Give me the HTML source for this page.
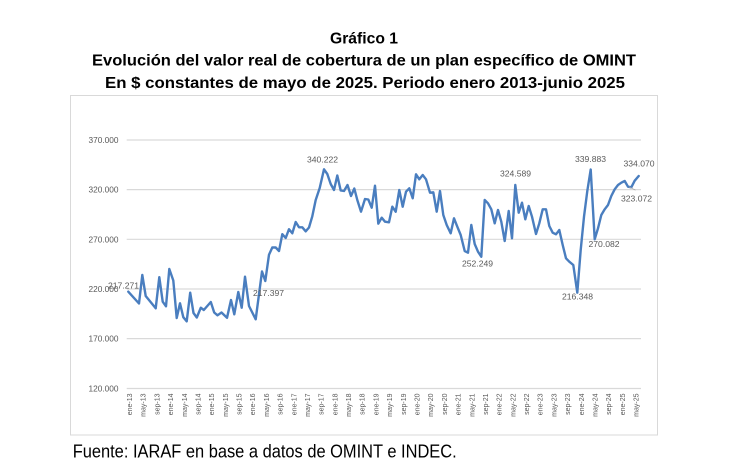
<!DOCTYPE html>
<html>
<head>
<meta charset="utf-8">
<style>
html,body{margin:0;padding:0;background:#fff;}
body{width:730px;height:467px;overflow:hidden;}
svg{display:block;}
</style>
</head>
<body>
<svg width="730" height="467" viewBox="0 0 730 467" xmlns="http://www.w3.org/2000/svg" font-family="'Liberation Sans', sans-serif">
  <rect x="0" y="0" width="730" height="467" fill="#fff"/>
  <!-- Titles -->
  <g font-weight="bold" font-size="16" fill="#000">
    <text x="330" y="43.5" textLength="68" lengthAdjust="spacingAndGlyphs">Gráfico 1</text>
    <text x="92" y="65.5" textLength="544" lengthAdjust="spacingAndGlyphs">Evolución del valor real de cobertura de un plan específico de OMINT</text>
    <text x="105" y="88" textLength="520" lengthAdjust="spacingAndGlyphs">En $ constantes de mayo de 2025. Periodo enero 2013-junio 2025</text>
  </g>
  <!-- Chart frame -->
  <rect x="70.5" y="95.5" width="587" height="339.5" fill="#fff" stroke="#d9d9d9" stroke-width="1"/>
  <!-- Gridlines -->
  <g stroke="#d9d9d9" stroke-width="1.2">
    <line x1="126.7" y1="140" x2="641" y2="140"/>
    <line x1="126.7" y1="189.6" x2="641" y2="189.6"/>
    <line x1="126.7" y1="239.3" x2="641" y2="239.3"/>
    <line x1="126.7" y1="289" x2="641" y2="289"/>
    <line x1="126.7" y1="338.6" x2="641" y2="338.6"/>
    <line x1="126.7" y1="388.5" x2="641" y2="388.5"/>
  </g>
  <!-- Y axis labels -->
  <g font-size="8.3" fill="#595959" text-anchor="end">
    <text x="118.5" y="143">370.000</text>
    <text x="118.5" y="192.6">320.000</text>
    <text x="118.5" y="242.3">270.000</text>
    <text x="118.5" y="292">220.000</text>
    <text x="118.5" y="341.6">170.000</text>
    <text x="118.5" y="391.5">120.000</text>
  </g>
  <!-- X axis labels -->
  <g font-size="7" fill="#595959" text-anchor="end">
    <text transform="translate(132,393.5) rotate(-90)">ene-13</text>
    <text transform="translate(145.69,393.5) rotate(-90)">may-13</text>
    <text transform="translate(159.38,393.5) rotate(-90)">sep-13</text>
    <text transform="translate(173.07,393.5) rotate(-90)">ene-14</text>
    <text transform="translate(186.76,393.5) rotate(-90)">may-14</text>
    <text transform="translate(200.45,393.5) rotate(-90)">sep-14</text>
    <text transform="translate(214.14,393.5) rotate(-90)">ene-15</text>
    <text transform="translate(227.83,393.5) rotate(-90)">may-15</text>
    <text transform="translate(241.52,393.5) rotate(-90)">sep-15</text>
    <text transform="translate(255.21,393.5) rotate(-90)">ene-16</text>
    <text transform="translate(268.9,393.5) rotate(-90)">may-16</text>
    <text transform="translate(282.59,393.5) rotate(-90)">sep-16</text>
    <text transform="translate(296.28,393.5) rotate(-90)">ene-17</text>
    <text transform="translate(309.97,393.5) rotate(-90)">may-17</text>
    <text transform="translate(323.66,393.5) rotate(-90)">sep-17</text>
    <text transform="translate(337.35,393.5) rotate(-90)">ene-18</text>
    <text transform="translate(351.04,393.5) rotate(-90)">may-18</text>
    <text transform="translate(364.73,393.5) rotate(-90)">sep-18</text>
    <text transform="translate(378.42,393.5) rotate(-90)">ene-19</text>
    <text transform="translate(392.11,393.5) rotate(-90)">may-19</text>
    <text transform="translate(405.8,393.5) rotate(-90)">sep-19</text>
    <text transform="translate(419.49,393.5) rotate(-90)">ene-20</text>
    <text transform="translate(433.18,393.5) rotate(-90)">may-20</text>
    <text transform="translate(446.87,393.5) rotate(-90)">sep-20</text>
    <text transform="translate(460.56,393.5) rotate(-90)">ene-21</text>
    <text transform="translate(474.25,393.5) rotate(-90)">may-21</text>
    <text transform="translate(487.94,393.5) rotate(-90)">sep-21</text>
    <text transform="translate(501.63,393.5) rotate(-90)">ene-22</text>
    <text transform="translate(515.32,393.5) rotate(-90)">may-22</text>
    <text transform="translate(529.01,393.5) rotate(-90)">sep-22</text>
    <text transform="translate(542.7,393.5) rotate(-90)">ene-23</text>
    <text transform="translate(556.39,393.5) rotate(-90)">may-23</text>
    <text transform="translate(570.08,393.5) rotate(-90)">sep-23</text>
    <text transform="translate(583.77,393.5) rotate(-90)">ene-24</text>
    <text transform="translate(597.46,393.5) rotate(-90)">may-24</text>
    <text transform="translate(611.15,393.5) rotate(-90)">sep-24</text>
    <text transform="translate(624.84,393.5) rotate(-90)">ene-25</text>
    <text transform="translate(638.53,393.5) rotate(-90)">may-25</text>
  </g>
  <!-- Series -->
  <polyline fill="none" stroke="#4a7ebf" stroke-width="2.4" stroke-linejoin="round" stroke-linecap="round" points="
128.3,291.7 139,303.5 142.3,275 145.7,296 155.7,308.3 159.3,277.2 162.7,301.7 166,306.3 169.3,269 173.3,280.5
176.7,318 180,303.3 183.3,317.2 186.7,321.3 190.2,292.7 193.5,313 196.8,317.5 200.8,307.7 203.8,310 210.8,302
214.2,312.5 217.5,315.3 221.5,312.5 227,317.8 231,300 234.3,314.3 238.3,292 241.7,307.7 245,276.7 249,306
255.7,319.3 262,271.5 265.3,281 269,254.7 272.3,247.5 275.7,247.5 279,251 282.3,234.2 285.7,238 289,229.2
292.3,233.3 295.7,222 299,227.3 302.3,227.3 305.7,231.3 309,227.5 312.3,216.3 315.7,200 319.7,188 324,169.3
327.3,174 330.7,184 334,190 337.3,175.5 340.7,190.5 344,191 347.5,185 351,196 354.3,188.5 357.3,200
361,211.7 365,199 368.3,199.5 371.7,207.7 375,185.7 378.3,223.7 381.7,217.7 385,221.7 389,222.3 392.3,206.7
395.7,211.7 399.3,190 402.7,206.7 406,191.7 409.3,188.3 412.7,198.3 416,174.3 419.3,179.3 422.7,175 426,179.3
430,192.7 433.3,192.3 436.7,211.7 440,191 443.3,215 446.7,225 450.7,233.3 454,218.3 457.3,226.7 460.7,235
464.7,251 468,252.7 471.3,225 474.7,244 478,251.7 481.3,256.7 484.7,200 488,203.3 491.3,209.3 494.7,223.3
498,210 501.3,221.7 504.7,241 508.7,211 512,238.3 515.3,185 518.7,212.7 522,202.7 525.3,219.3 528.7,206
532,216.7 536,234 539.3,223.3 542.7,209.3 546,209.3 549.3,226 552.7,232.7 556,234.3 559.3,230 562.7,245
566,258.3 569.3,261.7 573.3,265 577.3,292.7 580.7,250 584,216.7 587.3,191 590.7,169.5 594.7,239.3 598,228.3
601.3,215 604.7,209.3 608,205 611.3,196 614.7,189.3 618,185 621.3,182.7 624.7,181 628,186.7 631.3,187.3
634.7,180.7 638.7,176"/>
  <!-- Leader line -->
  <line x1="629" y1="186.8" x2="635.5" y2="190.2" stroke="#a6a6a6" stroke-width="0.8"/>
  <!-- Data labels -->
  <g font-size="8.6" fill="#595959">
    <text x="108" y="288.3">217.271</text>
    <text x="253" y="295.8">217.397</text>
    <text x="307" y="162.3">340.222</text>
    <text x="500" y="176.3">324.589</text>
    <text x="462" y="266.3">252.249</text>
    <text x="575" y="162">339.883</text>
    <text x="623.5" y="166.3">334.070</text>
    <text x="621" y="201.3">323.072</text>
    <text x="588.5" y="247">270.082</text>
    <text x="562" y="299.5">216.348</text>
  </g>
  <!-- Source -->
  <text x="72.7" y="457.3" font-size="18" fill="#000" textLength="384" lengthAdjust="spacingAndGlyphs">Fuente: IARAF en base a datos de OMINT e INDEC.</text>
</svg>
</body>
</html>
